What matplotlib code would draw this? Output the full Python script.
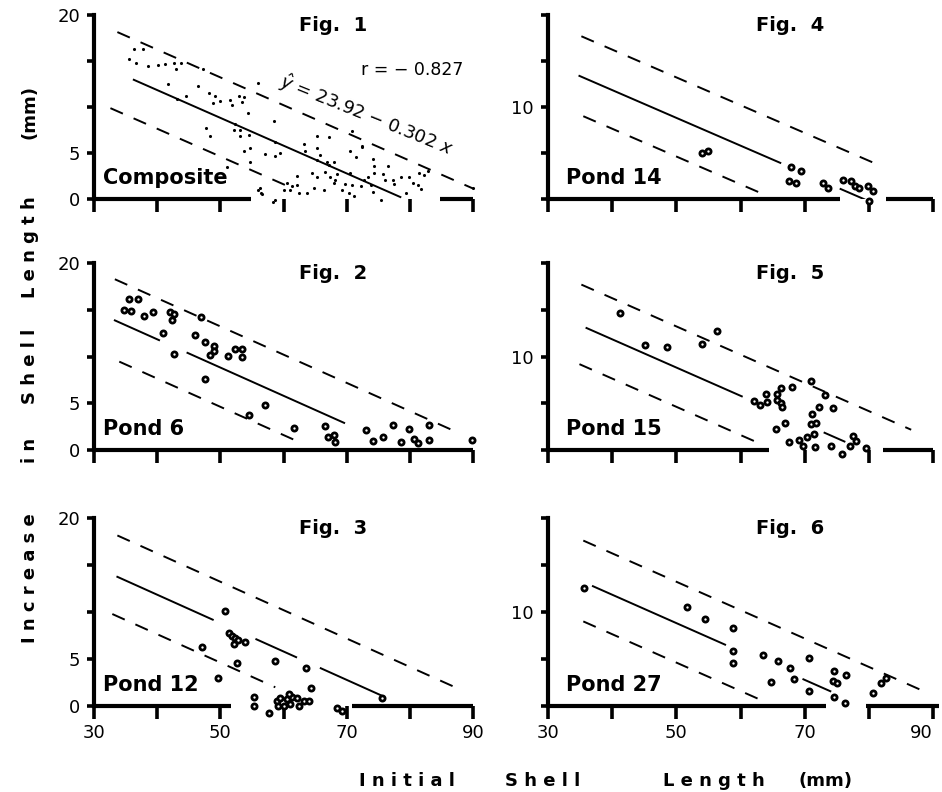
import numpy as np
import matplotlib.pyplot as plt

# composite regression (drawn in every panel) and its band
intercept = 23.92
slope = -0.302
band_hi = 4.4
band_lo = -4.2

fig_labels = ["Fig.  1", "Fig.  2", "Fig.  3", "Fig.  4", "Fig.  5", "Fig.  6"]
pond_labels = ["Composite", "Pond 6", "Pond 12", "Pond 14", "Pond 15", "Pond 27"]
xlabel_words = ["I n i t i a l", "S h e l l", "L e n g t h", "(mm)"]
ylabel_words = ["I n c r e a s e", "i n", "S h e l l", "L e n g t h", "(mm)"]

# Fig 1 - composite (small dots)
fig1_x = [36.3, 37.7, 35.6, 36.6, 38.5, 40.1, 41.3, 42.7, 43.8, 43.0, 47.3, 41.7, 46.5, 48.2,
          49.1, 49.9, 48.9, 51.5, 51.8, 52.9, 53.7, 53.4, 54.4, 44.6, 43.2, 56.0, 47.8, 48.4,
          52.1, 53.1, 52.3, 53.1, 54.6, 58.5, 53.7, 54.7, 57.1, 58.7, 59.5, 54.7, 51.0, 58.7,
          56.3, 56.6, 58.7, 60.0, 56.0, 58.4, 56.5, 65.3, 67.2, 70.9, 72.5, 70.6, 71.4, 74.1,
          74.3, 76.5, 63.2, 63.4, 65.3, 65.8, 66.9, 68.0, 64.5, 65.3, 62.1, 66.6, 67.4, 68.2,
          68.5, 68.0, 69.8, 70.6, 70.9, 71.2, 72.7, 73.3, 74.3, 75.7, 76.0, 77.3, 77.5, 74.1,
          75.4, 78.6, 79.9, 80.5, 81.3, 81.8, 79.4, 81.5, 82.9, 82.3, 90.0, 60.5, 61.0, 62.1,
          62.4, 63.7, 64.8, 66.4, 69.3, 70.4, 72.2, 73.8, 61.3, 65.3, 67.2, 72.4]
fig1_y = [16.3, 16.3, 15.2, 14.8, 14.5, 14.6, 14.7, 14.8, 14.8, 14.1, 14.1, 12.5, 12.3, 11.5,
          11.2, 10.7, 10.4, 10.8, 10.2, 11.2, 11.1, 10.5, 9.4, 11.2, 10.9, 12.6, 7.7, 6.9,
          7.5, 7.5, 8.2, 6.8, 7.0, 8.5, 5.2, 5.5, 4.9, 4.7, 5.0, 4.0, 3.5, 6.2,
          1.2, 0.5, -0.1, 1.0, 1.0, -0.3, 0.7, 6.9, 6.7, 7.4, 5.8, 5.2, 4.6, 4.3,
          3.6, 3.6, 6.0, 5.2, 5.5, 4.8, 4.0, 4.0, 2.8, 2.4, 2.5, 2.9, 2.4, 2.1,
          2.7, 1.7, 1.6, 2.8, 1.5, 0.3, 2.1, 2.4, 2.8, 2.7, 2.1, 2.1, 1.6, 0.8,
          -0.1, 2.4, 2.4, 1.7, 1.5, 1.1, 0.6, 2.8, 3.0, 2.6, 1.2, 1.7, 1.0, 1.5,
          0.6, 0.6, 1.2, 1.0, 1.0, 0.6, 1.4, 1.5, 1.4, 4.2, 3.7, 5.7]

# Fig 2 - Pond 6
fig2_x = [35.5, 37.0, 34.7, 35.8, 37.9, 39.3, 42.0, 42.7, 42.4, 41.0, 46.9, 42.7, 46.0, 47.5,
          49.0, 49.0, 48.3, 51.2, 52.4, 53.4, 53.4, 47.5, 57.1, 54.5, 61.6, 66.6, 67.1, 68.0,
          68.2, 73.0, 74.1, 75.7, 77.3, 78.6, 79.8, 80.7, 81.3, 83.0, 83.0, 89.8]
fig2_y = [16.2, 16.2, 15.0, 14.9, 14.3, 14.8, 14.8, 14.5, 13.9, 12.5, 14.2, 10.3, 12.3, 11.5,
          11.1, 10.6, 10.2, 10.1, 10.8, 10.8, 10.0, 7.6, 4.8, 3.7, 2.3, 2.6, 1.4, 1.6,
          0.9, 2.1, 1.0, 1.4, 2.7, 0.9, 2.2, 1.2, 0.7, 2.7, 1.1, 1.1]

# Fig 3 - Pond 12
fig3_x = [50.7, 51.3, 51.8, 52.3, 52.8, 52.2, 53.9, 47.1, 52.6, 58.6, 63.5, 49.6, 64.4, 75.6,
          55.4, 55.4, 57.7, 58.9, 59.4, 60.0, 60.5, 61.0, 61.3, 62.1, 62.4, 63.2, 64.1, 59.2,
          60.8, 68.5, 69.3]
fig3_y = [10.1, 7.8, 7.4, 7.2, 7.0, 6.6, 6.8, 6.3, 4.6, 4.8, 4.0, 3.0, 1.9, 0.9,
          1.0, 0.0, -0.7, 0.5, 0.9, 0.0, 0.7, 0.2, 1.0, 0.9, 0.0, 0.5, 0.5, 0.0,
          1.3, -0.2, -0.5]

# Fig 4 - Pond 14
fig4_x = [54.0, 55.0, 67.8, 69.4, 67.6, 68.6, 72.8, 73.6, 76.0, 77.2, 77.8, 78.5, 79.8, 80.6, 80.0]
fig4_y = [5.05, 5.2, 3.5, 3.0, 2.0, 1.7, 1.7, 1.2, 2.1, 1.96, 1.4, 1.2, 1.4, 0.9, -0.2]

# Fig 5 - Pond 15
fig5_x = [41.2, 45.1, 48.5, 54.0, 56.3, 71.0, 68.1, 66.3, 65.7, 63.9, 65.7, 66.3, 66.5, 64.2,
          63.1, 62.1, 73.2, 72.2, 74.4, 71.1, 71.0, 71.7, 66.9, 65.5, 71.5, 70.4, 69.1, 67.5,
          69.7, 71.6, 74.1, 75.8, 77.0, 77.5, 78.0, 79.6]
fig5_y = [14.7, 11.2, 11.0, 11.3, 12.7, 7.4, 6.7, 6.6, 6.0, 6.0, 5.3, 5.0, 4.6, 5.1,
          4.8, 5.2, 5.9, 4.6, 4.5, 3.9, 2.8, 2.9, 2.9, 2.2, 1.7, 1.4, 1.1, 0.9,
          0.4, 0.3, 0.4, -0.4, 0.4, 1.5, 1.0, 0.2]

# Fig 6 - Pond 27
fig6_x = [35.6, 51.7, 54.5, 58.8, 58.8, 58.8, 63.5, 65.9, 67.7, 70.7, 64.7, 68.3, 70.7, 74.5,
          76.5, 74.4, 75.1, 74.5, 76.3, 80.7, 81.9, 82.6]
fig6_y = [12.6, 10.5, 9.3, 8.25, 5.8, 4.6, 5.4, 4.8, 4.0, 5.1, 2.6, 2.9, 1.6, 3.7,
          3.3, 2.7, 2.5, 1.0, 0.35, 1.4, 2.5, 3.0]

xs_all = [fig1_x, fig2_x, fig3_x, fig4_x, fig5_x, fig6_x]
ys_all = [fig1_y, fig2_y, fig3_y, fig4_y, fig5_y, fig6_y]

# where the fitted line and the band lines were drawn in each panel
solid_spans = [[(36.3, 78.5)],
               [(33.3, 40.3), (44.8, 69.6)],
               [(33.7, 48.8), (55.7, 62.0), (65.9, 75.6)],
               [(34.9, 66.2), (75.6, 79.3)],
               [(36.0, 60.2), (73.1, 76.2)],
               [(37.0, 57.6), (69.8, 74.0)]]
upper_spans = [(33.7, 90.0), (33.3, 87.6), (33.7, 87.4), (35.2, 81.9), (35.2, 86.6), (35.5, 88.3)]
lower_spans = [(32.6, 60.8), (34.0, 62.4), (32.9, 58.7), (35.5, 63.1), (34.9, 62.1), (35.5, 62.9)]
# x axis is broken where the points sit on it
axis_spans = [[(30, 54.9), (84.7, 90)],
              [(30, 90)],
              [(30, 51.7), (70.8, 90)],
              [(30, 75.5), (82.7, 90)],
              [(30, 64.5), (82.2, 90)],
              [(30, 73.3), (79.5, 91)]]

W, H = 942, 792
fig = plt.figure(figsize=(W / 100, H / 100), dpi=100)

col_px = [(94, 473), (548, 933)]
row_px = [(199, 15), (450, 263), (706, 518)]

for i in range(6):
    col, row = i // 3, i % 3
    x0, x1 = col_px[col]
    y0, y1 = row_px[row]
    ax = fig.add_axes([x0 / W, 1 - y0 / H, (x1 - x0) / W, (y0 - y1) / H])
    ax.set_xlim(30, 90)
    ax.set_ylim(0, 20)
    for s in ['top', 'right', 'bottom']:
        ax.spines[s].set_visible(False)
    ax.spines['left'].set_linewidth(3)
    ax.set_xticks(range(30, 91, 10))
    ax.set_yticks([0, 5, 10, 15, 20])
    if col == 0:
        ax.set_yticklabels(['0', '5', '', '', '20'])
    else:
        ax.set_yticklabels(['', '', '10', '', ''])
    if row == 2:
        ax.set_xticklabels(['30', '', '50', '', '70', '', '90'])
    else:
        ax.set_xticklabels([])
    ax.tick_params(axis='x', length=9, width=2.6, direction='out', labelsize=13, pad=4)
    ax.tick_params(axis='y', length=5, width=2.6, direction='out', labelsize=13, pad=5)
    if row == 2 and col == 1:
        # last label sits at the page edge
        ax.get_xticklabels()[-1].set_horizontalalignment('right')

    for a, b in axis_spans[i]:
        ax.plot([a, b], [0, 0], color='k', lw=3, solid_capstyle='butt', clip_on=False)

    for a, b in solid_spans[i]:
        xx = np.array([a, b])
        ax.plot(xx, intercept + slope * xx, color='k', lw=1.4)
    xx = np.array(upper_spans[i])
    ax.plot(xx, intercept + slope * xx + band_hi, color='k', lw=1.4, dashes=(7, 6))
    xx = np.array(lower_spans[i])
    ax.plot(xx, intercept + slope * xx + band_lo, color='k', lw=1.4, dashes=(7, 6))

    if i == 0:
        ax.scatter(xs_all[i], ys_all[i], s=5, color='k', lw=0, clip_on=False, zorder=3)
    else:
        ax.scatter(xs_all[i], ys_all[i], s=14, facecolors='white', edgecolors='k',
                   linewidths=2.0, clip_on=False, zorder=3)

    ax.text(62.4, 18.3, fig_labels[i], fontsize=14, fontweight='bold', ha='left', va='baseline')
    ax.text(31.5 if col == 0 else 32.8, 1.6, pond_labels[i], fontsize=15, fontweight='bold',
            ha='left', va='baseline')

    if i == 0:
        ax.text(72.3, 13.5, 'r = \u2212 0.827', fontsize=12.5, ha='left', va='baseline')
        ax.text(59.2, 12.2, '$\\hat{y}$ = 23.92 \u2212 0.302 $x$',
                fontsize=13, rotation=-22, rotation_mode='anchor', ha='left', va='baseline')

for word, cy in zip(ylabel_words, [578, 450, 366, 247, 112]):
    fig.text(30 / W, 1 - cy / H, word, rotation=90, ha='center', va='center',
             fontsize=13, fontweight='bold')
for word, cx in zip(xlabel_words, [407, 543, 714, 825]):
    fig.text(cx / W, 1 - 786 / H, word, ha='center', va='baseline', fontsize=13,
             fontweight='bold')

fig.savefig('out.png', dpi=100)
